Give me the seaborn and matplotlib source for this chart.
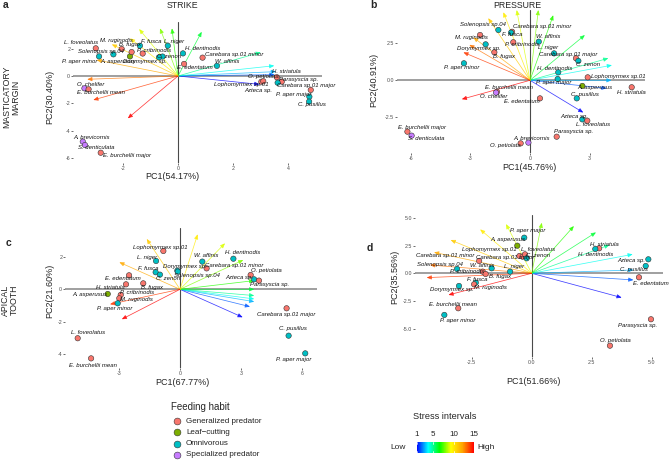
import numpy as np
import pandas as pd
import matplotlib
matplotlib.use("Agg")
import matplotlib.pyplot as plt
import seaborn as sns
from matplotlib.colors import LinearSegmentedColormap, Normalize
from matplotlib.cm import ScalarMappable

sns.set_style("white")
plt.rcParams["font.family"] = ["Liberation Sans", "DejaVu Sans"]
plt.rcParams["axes.unicode_minus"] = False

# ---------------- data ----------------
habits = ["Generalized predator", "Leaf−cutting", "Omnivorous", "Specialized predator"]
habit_colors = ["#F8766D", "#7CAE00", "#00BFC4", "#C77CFF"]
G, L, O, S = habits
habit_of = {
    "L. foveolatus": G, "M. ruginodis": G, "Solenopsis sp.04": O, "P. aper minor": O,
    "A. asperusus": L, "F. fusca": O, "B. fugax": G, "P. cribrinodis": G, "L. niger": O,
    "C. zenon": O, "Dorymyrmex sp.": O, "H. dentinodis": O, "Carebara sp.01 minor": G,
    "W. affinis": O, "E. edentatum": G, "O. chelifer": S, "E. burchellii mean": G,
    "O. petiolata": G, "H. striatula": G, "Parasyscia sp.": G, "Lophomyrmex sp.01": G,
    "Azteca sp.": O, "Carebara sp.01 major": G, "P. aper major": O, "C. pusillus": O,
    "A. brevicornis": S, "S. denticulata": S, "E. burchellii major": G,
}

# Panel a: masticatory margin, strike
a_species = ["L. foveolatus", "M. ruginodis", "Solenopsis sp.04", "P. aper minor", "A. asperusus",
             "F. fusca", "B. fugax", "P. cribrinodis", "L. niger", "C. zenon", "Dorymyrmex sp.",
             "H. dentinodis", "Carebara sp.01 minor", "W. affinis", "E. edentatum", "O. chelifer",
             "E. burchellii mean", "Lophomyrmex sp.01", "O. petiolata", "H. striatula", "Parasyscia sp.",
             "Azteca sp.", "Carebara sp.01 major", "P. aper major", "C. pusillus", "A. brevicornis",
             "S. denticulata", "E. burchellii major"]
a_pc1 = [-2.98, -2.04, -2.34, -2.86, -1.74, -1.38, -1.68, -1.28, -0.37, -0.56, -0.69, 0.18, 0.89,
         1.41, 0.22, -3.39, -3.24, 3.02, 3.09, 3.58, 3.76, 3.61, 4.81, 4.76, 4.75, -3.45, -3.37, -2.80]
a_pc2 = [2.02, 1.97, 1.58, 1.43, 1.43, 2.21, 1.75, 1.64, 2.21, 1.42, 1.36, 1.65, 1.34, 0.74, 0.88,
         -0.90, -0.97, -0.42, -0.38, -0.09, -0.41, -0.49, -1.02, -1.51, -1.87, -4.79, -5.04, -5.60]
a_load1 = [2.95, 3.50, 3.55, 3.49, 3.00, 0.86, -0.22, -0.65, -1.41, -1.74, -2.40, -2.95, -3.29, -3.07, -1.82]
a_load2 = [-0.61, 0.10, 0.32, 0.75, 1.73, 3.23, 3.48, 3.48, 3.43, 2.75, 2.31, 1.17, -0.24, -1.75, -3.09]
a_stress = [1, 2, 3, 4, 5, 6, 7, 8, 9, 10, 11, 12, 13, 14, 15]

# Panel b: masticatory margin, pressure
b_species = ["Solenopsis sp.04", "Carebara sp.01 minor", "F. fusca", "M. ruginodis", "W. affinis",
             "P. cribrinodis", "L. niger", "Dorymyrmex sp.", "B. fugax", "P. aper minor",
             "Carebara sp.01 major", "C. zenon", "H. dentinodis", "Lophomyrmex sp.01", "P. aper major",
             "A. asperusus", "H. striatula", "C. pusillus", "E. burchellii mean", "O. chelifer",
             "E. edentatum", "Azteca sp.", "L. foveolatus", "Parasyscia sp.", "A. brevicornis",
             "O. petiolata", "E. burchellii major", "S. denticulata"]
b_pc1 = [-1.59, -0.90, -0.95, -2.51, 0.44, -0.84, 1.21, -2.23, -1.79, -3.32, 2.31, 2.43, 1.42, 2.90,
         1.39, 2.63, 5.11, 2.35, -1.66, -1.71, 0.50, 2.63, 2.88, 1.34, -0.08, -0.47, -6.16, -5.95]
b_pc2 = [3.40, 3.28, 3.22, 3.06, 2.61, 2.57, 1.82, 2.43, 1.89, 1.15, 1.49, 1.31, 0.54, 0.20, 0.09,
         -0.38, -0.47, -1.22, -0.78, -0.83, -1.22, -2.64, -2.73, -3.81, -4.21, -4.26, -3.47, -3.74]
b_load1 = [2.68, 3.85, 4.10, 4.12, 3.94, 2.76, 1.17, 0.42, -0.67, -1.34, -2.10, -2.85, -3.05, -3.35, -3.43]
b_load2 = [-2.18, -0.54, 0.00, 1.02, 1.49, 3.06, 4.40, 4.75, 4.75, 4.60, 4.20, 2.90, 2.40, 1.89, -1.28]
b_stress = [1, 2, 3, 4, 5, 6, 7, 8, 9, 10, 11, 12, 13, 14, 15]

# Panel c: apical tooth, strike
c_species = ["Lophomyrmex sp.01", "L. niger", "F. fusca", "C. zenon", "Dorymyrmex sp.",
             "Solenopsis sp.04", "W. affinis", "H. dentinodis", "Carebara sp.01 minor", "O. petiolata",
             "Azteca sp.", "Parasyscia sp.", "E. edentatum", "H. striatula", "B. fugax",
             "P. cribrinodis", "M. ruginodis", "A. asperusus", "P. aper minor", "Carebara sp.01 major",
             "C. pusillus", "P. aper major", "L. foveolatus", "E. burchellii mean"]
c_pc1 = [-0.82, -1.18, -1.20, -0.99, -0.13, -0.11, 1.10, 2.63, 1.31, 3.48, 3.65, 3.89, -2.51, -2.66,
         -1.81, -2.92, -2.99, -3.56, -3.07, 5.25, 5.35, 6.17, -5.04, -4.38]
c_pc2 = [2.38, 1.76, 1.06, 0.91, 1.16, 1.10, 1.72, 1.90, 1.30, 0.89, 0.62, 0.54, 0.87, 0.31, 0.37,
         -0.35, -0.56, -0.29, -0.87, -1.18, -2.88, -3.98, -3.04, -4.29]
c_load1 = [3.09, 3.45, 3.66, 3.66, 3.66, 3.66, 3.66, 3.12, 2.22, 0.87, -1.64, -2.99, -3.45, -2.87]
c_load2 = [-1.74, -1.08, -0.77, -0.60, -0.39, 0.00, 0.54, 1.82, 2.86, 3.42, 3.13, 1.68, -0.93, -1.86]
c_stress = [1, 2, 3, 4, 5, 6, 7, 8, 9, 10, 11, 12, 14, 15]

# Panel d: apical tooth, pressure
d_species = ["P. aper major", "A. asperusus", "Lophomyrmex sp.01", "Carebara sp.01 major",
             "L. foveolatus", "C. zenon", "Carebara sp.01 minor", "W. affinis", "Solenopsis sp.04",
             "P. cribrinodis", "B. fugax", "L. niger", "F. fusca", "M. ruginodis", "Dorymyrmex sp.",
             "H. striatula", "H. dentinodis", "Azteca sp.", "C. pusillus", "E. edentatum",
             "E. burchellii mean", "P. aper minor", "Parasyscia sp.", "O. petiolata"]
d_pc1 = [-0.31, -0.60, -0.51, -0.38, -0.28, -0.21, -2.19, -1.67, -3.11, -2.04, -1.92, -0.90, -2.33,
         -2.40, -3.03, 2.81, 2.65, 4.86, 4.75, 4.47, -3.06, -3.64, 4.97, 3.26]
d_pc2 = [3.21, 2.49, 1.56, 1.50, 1.71, 1.35, 1.11, 0.45, 0.39, 0.15, -0.06, 0.15, -0.84, -0.99, -1.14,
         2.25, 2.19, 1.26, 0.66, -0.36, -3.15, -3.75, -4.14, -6.52]
d_load1 = [3.75, 4.24, 4.24, 4.21, 3.24, 2.68, 1.76, 0.42, -1.07, -2.15, -3.38, -4.07, -4.24, -4.38, -3.47]
d_load2 = [-2.19, -0.60, 0.30, 1.71, 2.55, 3.69, 4.26, 4.56, 4.44, 3.96, 3.00, 1.89, 0.75, -0.39, -1.95]
d_stress = [1, 2, 3, 4, 5, 6, 7, 8, 9, 10, 11, 12, 13, 14, 15]

stress_ticks = [1, 5, 10, 15]

# ---------------- label offsets (pixels, layout only) ----------------
a_off = {"L. foveolatus": (-14.7, 5.7), "M. ruginodis": (-5.3, 8.3), "Solenopsis sp.04": (-12, 3.3),
         "P. aper minor": (-19, -5), "A. asperusus": (-11.7, -5), "F. fusca": (11.7, 4),
         "B. fugax": (-1.7, 7.3), "P. cribrinodis": (11.3, 2.7), "L. niger": (6.3, 4),
         "C. zenon": (7, -0.3), "Dorymyrmex sp.": (-13.7, -3.7), "H. dentinodis": (20, 5.3),
         "Carebara sp.01 minor": (31.7, 3.3), "W. affinis": (10.3, 4), "E. edentatum": (10.7, -3.3),
         "O. chelifer": (6.3, 4.3), "E. burchellii mean": (12.3, -3.3), "O. petiolata": (0, 4.3),
         "H. striatula": (9.5, 5.5), "Parasyscia sp.": (17, 1.7), "Lophomyrmex sp.01": (-20, -2.7),
         "Azteca sp.": (-19.3, -7.3), "Carebara sp.01 major": (-5, 4), "P. aper major": (-16, 2.3),
         "C. pusillus": (2.7, -3.3), "A. brevicornis": (9, 4.3), "S. denticulata": (11.7, -2.3),
         "E. burchellii major": (26, -2.3)}
b_off = {"Solenopsis sp.04": (-15.7, 5), "Carebara sp.01 minor": (30, 5), "F. fusca": (0.7, -2.3),
         "M. ruginodis": (-8.3, -2.7), "W. affinis": (9.7, 5), "P. cribrinodis": (8.3, -2.7),
         "L. niger": (-5.7, 5.7), "Dorymyrmex sp.": (-6.7, -4), "B. fugax": (9.7, -3.7),
         "P. aper minor": (-2.3, -4.3), "Carebara sp.01 major": (-7.7, 3.3), "C. zenon": (10, -3.3),
         "H. dentinodis": (-3.3, 4), "Lophomyrmex sp.01": (30.7, 1.3), "P. aper major": (-4.3, -3.7),
         "A. asperusus": (12.7, -1.7), "H. striatula": (0, -5.3), "C. pusillus": (8.3, 4),
         "E. burchellii mean": (11.7, 4.3), "O. chelifer": (-2, -4), "E. edentatum": (-18.3, -2.7),
         "Azteca sp.": (-8, 3.3), "L. foveolatus": (6, -3.3), "Parasyscia sp.": (16.7, 5),
         "A. brevicornis": (3.3, 4.3), "O. petiolata": (-15.7, -2.3), "E. burchellii major": (14.3, 4.3),
         "S. denticulata": (15, -2.7)}
c_off = {"Lophomyrmex sp.01": (-3.3, 3.3), "L. niger": (-9.3, 3.7), "F. fusca": (-7.3, 4),
         "C. zenon": (8.3, -3.7), "Dorymyrmex sp.": (7.7, 4), "Solenopsis sp.04": (19, -4),
         "W. affinis": (4.3, 6), "H. dentinodis": (9.3, 6), "Carebara sp.01 minor": (27.5, 3.3),
         "O. petiolata": (16, 4), "Azteca sp.": (-14.7, 1.7), "Parasyscia sp.": (11, -3.7),
         "E. edentatum": (-5.7, -3.3), "H. striatula": (-16, -3), "B. fugax": (8.3, -4),
         "P. cribrinodis": (16, 2.3), "M. ruginodis": (17.3, -1), "A. asperusus": (-17.7, -0.3),
         "P. aper minor": (-2.7, -5), "Carebara sp.01 major": (-0.7, -6.7), "C. pusillus": (4.7, 7.3),
         "P. aper major": (-12, -6), "L. foveolatus": (10.7, 5.7), "E. burchellii mean": (2.3, -7.3)}
d_off = {"P. aper major": (3.3, 7), "A. asperusus": (-9.7, 5.7), "Lophomyrmex sp.01": (-30, 6),
         "Carebara sp.01 major": (-17.7, -0.7), "L. foveolatus": (13.3, 5.3), "C. zenon": (11.7, 2.7),
         "Carebara sp.01 minor": (-34, 5.3), "W. affinis": (-9.3, 2.7), "Solenopsis sp.04": (-17, 4),
         "P. cribrinodis": (-16, 0), "B. fugax": (14.3, -2.7), "L. niger": (4.3, 5),
         "F. fusca": (1, 3.3), "M. ruginodis": (16, -3), "Dorymyrmex sp.": (-7.3, -3.3),
         "H. striatula": (5, 4.3), "H. dentinodis": (0.3, -5.3), "Azteca sp.": (-16.7, -1.3),
         "C. pusillus": (-11.7, -4), "E. edentatum": (11.7, -6), "E. burchellii mean": (-5, 4),
         "P. aper minor": (13.3, -6), "Parasyscia sp.": (-13.7, -6), "O. petiolata": (5.7, 5)}

# ---------------- figure ----------------
W, H = 669, 461
fig = plt.figure(figsize=(W / 100, H / 100), dpi=100)
fig.patch.set_facecolor("white")

ov = fig.add_axes([0, 0, 1, 1])
ov.set_xlim(0, W)
ov.set_ylim(H, 0)
ov.axis("off")


def rect(l, t, r, b):
    return [l / W, 1 - b / H, (r - l) / W, (b - t) / H]


cmap = LinearSegmentedColormap.from_list(
    "stress", ["#0000FF", "#00FFFF", "#00FF00", "#FFFF00", "#FFA500", "#FF0000"])
norm = Normalize(vmin=1, vmax=15)
palette = dict(zip(habits, habit_colors))


def panel(box, species, pc1, pc2, l1, l2, stress, offs, xticks, yticks, fmt,
          xlabel, ylabel, xlab_px, ylab_px, origin_px, scale_px):
    ax = fig.add_axes(rect(*box))
    ax.set_facecolor("none")
    ox, oy = origin_px
    sx, sy = scale_px
    ax.set_xlim((box[0] - ox) / sx, (box[2] - ox) / sx)
    ax.set_ylim((oy - box[3]) / sy, (oy - box[1]) / sy)
    ax.axhline(0, color="#8f8f8f", lw=1.2, zorder=1)
    ax.axvline(0, color="#4a4a4a", lw=0.8, zorder=1)
    for x, y, s in zip(l1, l2, stress):
        ax.annotate("", xy=(x, y), xytext=(0, 0),
                    arrowprops=dict(arrowstyle="-|>,head_length=0.7,head_width=0.3",
                                    mutation_scale=4, color=cmap(norm(s)), lw=0.55,
                                    alpha=0.75, shrinkA=0, shrinkB=0),
                    zorder=2)
    df = pd.DataFrame({"PC1": pc1, "PC2": pc2, "Species": species,
                       "Feeding habit": [habit_of[s] for s in species]})
    sns.scatterplot(data=df, x="PC1", y="PC2", hue="Feeding habit", hue_order=habits,
                    palette=palette, s=15, edgecolor="#333333", linewidth=0.4,
                    legend=False, ax=ax, zorder=3)
    for name, x, y in zip(species, pc1, pc2):
        dx, dy = offs[name]
        ax.annotate(name, (x, y), xytext=(dx, dy), textcoords="offset pixels",
                    ha="center", va="center", fontsize=4.3, style="italic",
                    color="#111111", zorder=4)
    for sp in ax.spines.values():
        sp.set_visible(False)
    ax.set_xticks(xticks)
    ax.set_yticks(yticks)
    ax.set_xticklabels([fmt.format(v) for v in xticks])
    ax.set_yticklabels([fmt.format(v) for v in yticks])
    ax.tick_params(axis="both", length=1.5, width=0.5, color="#333333", labelsize=3.8,
                   labelcolor="#4d4d4d", pad=0.6, bottom=True, left=True)
    ax.set_xlabel(xlabel, fontsize=6.5)
    ax.set_ylabel(ylabel, fontsize=6.5)
    ax.xaxis.label.set_verticalalignment("center")
    ax.yaxis.label.set_verticalalignment("center")
    ax.xaxis.set_label_coords(*xlab_px, transform=ov.transData)
    ax.yaxis.set_label_coords(*ylab_px, transform=ov.transData)
    return ax


panel((73, 22, 322, 163), a_species, a_pc1, a_pc2, a_load1, a_load2, a_stress, a_off,
      [-2, 0, 2, 4], [-6, -4, -2, 0, 2], "{:g}", "PC1(54.17%)", "PC2(30.40%)",
      (172.7, 176.5), (50, 96.7), (178, 76), (27.6, 13.7))
axb = panel((396.7, 10, 645, 153), b_species, b_pc1, b_pc2, b_load1, b_load2, b_stress, b_off,
            [-6, -3, 0, 3], [-2.5, 0.0, 2.5], "{:g}", "PC1(45.76%)", "PC2(40.91%)",
            (529.7, 167), (373.3, 80), (530, 80.3), (19.9, 14.8))
axb.set_yticklabels(["-2.5", "0.0", "2.5"])
panel((65, 228, 316.7, 368), c_species, c_pc1, c_pc2, c_load1, c_load2, c_stress, c_off,
      [-3, 0, 3, 6], [-4, -2, 0, 2], "{:g}", "PC1(67.77%)", "PC2(21.60%)",
      (182.3, 382.5), (50, 290.7), (180, 289.3), (20.3, 16.1))
panel((415, 215, 663, 356.7), d_species, d_pc1, d_pc2, d_load1, d_load2, d_stress, d_off,
      [-2.5, 0.0, 2.5, 5.0], [-5.0, -2.5, 0.0, 2.5, 5.0], "{:.1f}", "PC1(51.66%)", "PC2(35.56%)",
      (533.7, 381), (395, 276.7), (531.7, 273.3), (24, 11.1))

# ---------------- titles, panel letters, row labels ----------------
ov.text(182, 6, "STRIKE", ha="center", va="center", fontsize=6.3)
ov.text(517, 6, "PRESSURE", ha="center", va="center", fontsize=6.3)
for (x, y, t) in [(6, 5, "a"), (373, 5, "b"), (8, 243, "c"), (370, 248, "d")]:
    ov.text(x, y, t, ha="center", va="center", fontsize=7.5, fontweight="bold")
ov.text(11, 97, "MASTICATORY\nMARGIN", rotation=90, ha="center", va="center",
        fontsize=6.3, linespacing=1.05, multialignment="center")
ov.text(10, 300, "APICAL\nTOOTH", rotation=90, ha="center", va="center",
        fontsize=6.3, linespacing=1.05, multialignment="center")

# ---------------- feeding habit legend ----------------
ov.text(171, 407, "Feeding habit", ha="left", va="center", fontsize=7)
for i, (hname, col) in enumerate(zip(habits, habit_colors)):
    yy = 421 + i * 11.33
    ov.scatter([176.7], [yy], s=24, color=col, edgecolor="#333333", linewidth=0.4)
    ov.text(186, yy, hname, ha="left", va="center", fontsize=5.8, color="#222222")

# ---------------- stress colorbar ----------------
ov.text(444.7, 416.7, "Stress intervals", ha="center", va="center", fontsize=6.6)
cax = fig.add_axes(rect(416.7, 441.7, 474, 453.3))
cb = fig.colorbar(ScalarMappable(norm=norm, cmap=cmap), cax=cax, orientation="horizontal",
                  ticks=stress_ticks)
cb.outline.set_visible(False)
cax.xaxis.set_ticks_position("top")
cax.tick_params(length=0, labelsize=5.8, pad=2.5, labelcolor="#222222")
for v in stress_ticks:
    cax.axvline(v, ymin=0, ymax=0.2, color="white", lw=0.5)
    cax.axvline(v, ymin=0.8, ymax=1, color="white", lw=0.5)
ov.text(398.3, 447.3, "Low", ha="center", va="center", fontsize=6)
ov.text(486, 447.3, "High", ha="center", va="center", fontsize=6)

fig.savefig("out.png", dpi=100, facecolor="white")
